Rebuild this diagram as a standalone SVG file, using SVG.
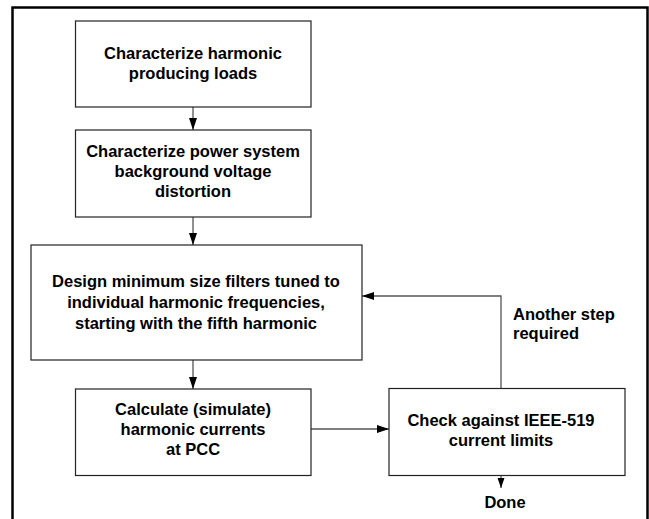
<svg xmlns="http://www.w3.org/2000/svg" width="649" height="519" viewBox="0 0 649 519">
<style>
.box{fill:#fff;stroke:#222;stroke-width:1.2}
.t{font-family:"Liberation Sans",Arial,sans-serif;font-weight:bold;font-size:16.5px;fill:#000;text-anchor:middle}
.l{font-family:"Liberation Sans",Arial,sans-serif;font-weight:bold;font-size:16.5px;fill:#000}
.c{fill:none;stroke:#555;stroke-width:1.3}
</style>
<defs>
<marker id="ah" markerWidth="12" markerHeight="8" refX="12" refY="4" orient="auto" markerUnits="userSpaceOnUse">
<path d="M0,0 L12,4 L0,8 Z" fill="#000"/>
</marker>
<marker id="ahs" markerWidth="10" markerHeight="8" refX="10" refY="4" orient="auto" markerUnits="userSpaceOnUse">
<path d="M0,0.5 L10,4 L0,7.5 Z" fill="#000"/>
</marker>
</defs>
<rect x="12.5" y="7.5" width="635" height="530" fill="#fff" stroke="#000" stroke-width="2.5"/>
<g id="connectors">
<line class="c" x1="193" y1="107" x2="193" y2="130" marker-end="url(#ah)"/>
<line class="c" x1="193" y1="217" x2="193" y2="245" marker-end="url(#ah)"/>
<line class="c" x1="193" y1="360" x2="193" y2="389" marker-end="url(#ah)"/>
<line class="c" x1="311" y1="429" x2="389" y2="429" marker-end="url(#ah)"/>
<polyline class="c" points="501,388 501,296 362,296" marker-end="url(#ah)"/>
<line class="c" x1="501" y1="475" x2="501" y2="488" marker-end="url(#ahs)"/>
<text class="l" x="513" y="320">Another step</text>
<text class="l" x="513" y="339">required</text>
<text class="t" x="505" y="508">Done</text>
</g>
<g id="n1">
<rect class="box" x="75.5" y="21" width="235.5" height="86"/>
<text class="t" x="193" y="59">Characterize harmonic</text>
<text class="t" x="193" y="79">producing loads</text>
</g>
<g id="n2">
<rect class="box" x="75.5" y="130" width="235.5" height="87"/>
<text class="t" x="193" y="157">Characterize power system</text>
<text class="t" x="193" y="177">background voltage</text>
<text class="t" x="193" y="197">distortion</text>
</g>
<g id="n3">
<rect class="box" x="31" y="245" width="331" height="115"/>
<text class="t" x="196" y="287">Design minimum size filters tuned to</text>
<text class="t" x="196" y="308">individual harmonic frequencies,</text>
<text class="t" x="196" y="329">starting with the fifth harmonic</text>
</g>
<g id="n4">
<rect class="box" x="75.5" y="389" width="235.5" height="86.5"/>
<text class="t" x="193" y="415">Calculate (simulate)</text>
<text class="t" x="193" y="435">harmonic currents</text>
<text class="t" x="193" y="455">at PCC</text>
</g>
<g id="n5">
<rect class="box" x="389" y="388.5" width="236" height="87"/>
<text class="t" x="501" y="426">Check against IEEE-519</text>
<text class="t" x="501" y="446">current limits</text>
</g>
</svg>
